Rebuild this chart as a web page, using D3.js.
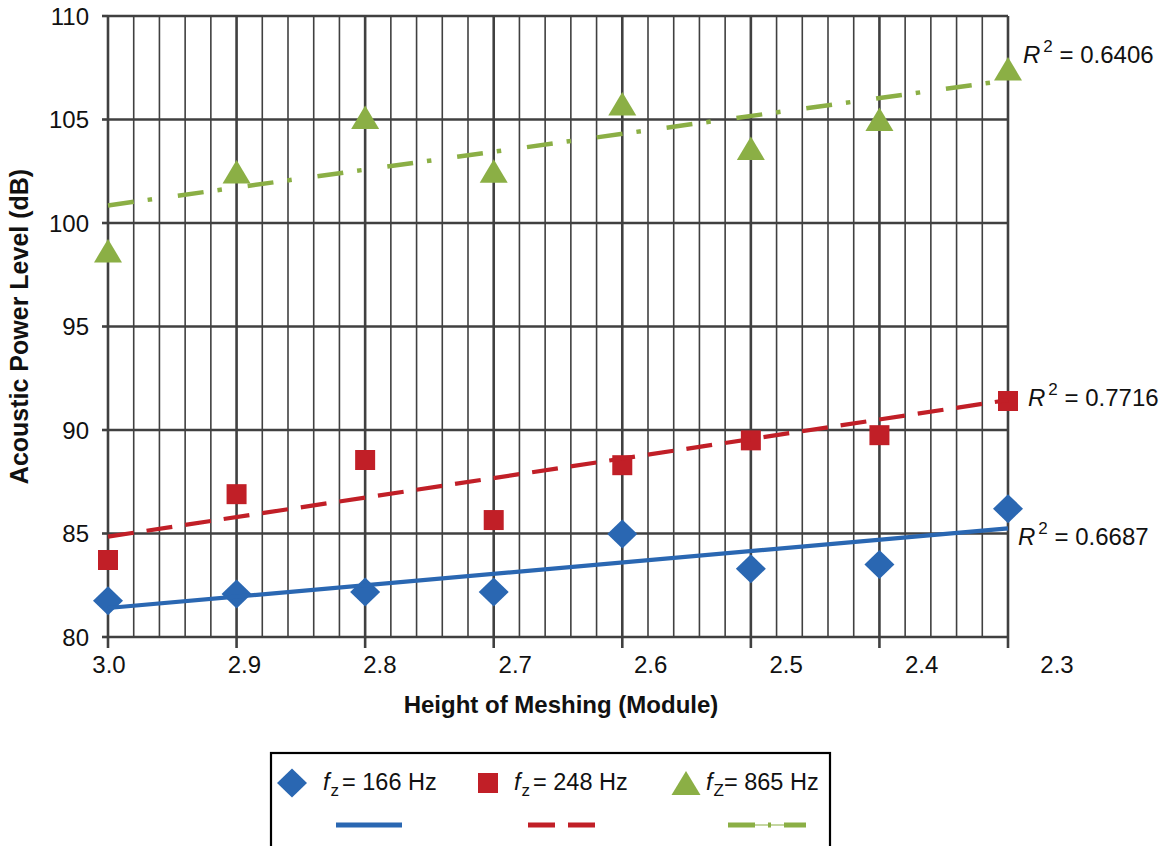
<!DOCTYPE html>
<html>
<head>
<meta charset="utf-8">
<script src="https://cdn.jsdelivr.net/npm/d3@7"></script>
<style>
  html, body { margin: 0; padding: 0; background: #fff; }
  svg { display: block; font-family: "Liberation Sans", Arial, sans-serif; }
</style>
</head>
<body>
<svg id="chart" width="1169" height="846"></svg>
<script>
// ---- data ----
const heights = [3.0, 2.9, 2.8, 2.7, 2.6, 2.5, 2.4, 2.3];
const xTickLabels = ["3.0", "2.9", "2.8", "2.7", "2.6", "2.5", "2.4", "2.3"];
const yTicks = [80, 85, 90, 95, 100, 105, 110];
const power166 = [81.75, 82.08, 82.17, 82.17, 84.98, 83.3, 83.5, 86.2];
const power248 = [83.72, 86.9, 88.55, 85.65, 88.3, 89.5, 89.75, 91.4];
const power865 = [98.65, 102.46, 105.1, 102.5, 105.75, 103.6, 105.0, 107.44];
// trendline end values (at 3.0 and at 2.3)
const trend166 = [81.4, 85.25];
const trend248 = [84.85, 91.45];
const trend865 = [100.85, 106.9];
const r2Labels = ["0.6687", "0.7716", "0.6406"];
const legendLabels = ["= 166 Hz", "= 248 Hz", "= 865 Hz"];
const legendSubs = ["z", "z", "Z"];

// ---- layout ----
const svg = d3.select("#chart");
const L = 108, R = 1008, T = 16, B = 637;
const x = d3.scaleLinear().domain([3.0, 2.3]).range([L, R]);
const xLab = d3.scaleLinear().domain([3.0, 2.3]).range([109, 1057]);
const y = d3.scaleLinear().domain([80, 110]).range([B, T]);

const gridColor = "#404040";
const cBlue = "#2A67B2", cRed = "#C11F27", cGreen = "#8BAF45";
const FS = 24;

// minor vertical gridlines
const minor = d3.range(0, 36).map(i => 3.0 - i * 0.02).filter((v, i) => i % 5 !== 0);
svg.append("g").selectAll("line").data(minor).join("line")
  .attr("x1", d => x(d)).attr("x2", d => x(d))
  .attr("y1", T).attr("y2", B)
  .attr("stroke", gridColor).attr("stroke-width", 1.6);

// major horizontal gridlines
svg.append("g").selectAll("line").data(yTicks).join("line")
  .attr("x1", L).attr("x2", R)
  .attr("y1", d => y(d)).attr("y2", d => y(d))
  .attr("stroke", gridColor).attr("stroke-width", 2.6);

// major vertical gridlines
svg.append("g").selectAll("line").data(heights).join("line")
  .attr("x1", d => x(d)).attr("x2", d => x(d))
  .attr("y1", T).attr("y2", B)
  .attr("stroke", gridColor).attr("stroke-width", 2.6);

// axis ticks
svg.append("g").selectAll("line").data(yTicks).join("line")
  .attr("x1", L - 6).attr("x2", L)
  .attr("y1", d => y(d)).attr("y2", d => y(d))
  .attr("stroke", gridColor).attr("stroke-width", 2.6);
svg.append("g").selectAll("line").data(heights).join("line")
  .attr("x1", d => x(d)).attr("x2", d => x(d))
  .attr("y1", B).attr("y2", B + 11)
  .attr("stroke", gridColor).attr("stroke-width", 2.6);

// tick labels
svg.append("g").selectAll("text").data(yTicks).join("text")
  .attr("x", 89).attr("y", d => y(d) + 8.5)
  .attr("text-anchor", "end").attr("font-size", FS).attr("fill", "#111")
  .text(d => d);
svg.append("g").selectAll("text").data(heights).join("text")
  .attr("x", d => xLab(d)).attr("y", 673)
  .attr("text-anchor", "middle").attr("font-size", FS).attr("fill", "#111")
  .text((d, i) => xTickLabels[i]);

// axis titles
svg.append("text").attr("x", 561).attr("y", 713)
  .attr("text-anchor", "middle").attr("font-size", 24).attr("font-weight", "bold")
  .attr("fill", "#111").text("Height of Meshing (Module)");
svg.append("text")
  .attr("transform", `translate(28,${(T + B) / 2}) rotate(-90)`)
  .attr("text-anchor", "middle").attr("font-size", 25).attr("font-weight", "bold")
  .attr("fill", "#111").text("Acoustic Power Level (dB)");

// trendlines
const trendLine = d3.line().x(d => x(d[0])).y(d => y(d[1]));
const ends = [3.0, 2.3];
function drawTrend(vals, color, width, dash) {
  svg.append("path")
    .attr("d", trendLine(ends.map((h, i) => [h, vals[i]])))
    .attr("fill", "none").attr("stroke", color).attr("stroke-width", width)
    .attr("stroke-dasharray", dash);
}

// markers
const diamond = "M0,-14.5L15,0L0,14.5L-15,0Z";
const square = "M-10,-10L10,-10L10,10L-10,10Z";
const triangle = "M0,-12L14,11.5L-14,11.5Z";
function drawMarkers(vals, path, color) {
  svg.append("g").selectAll("path").data(vals).join("path")
    .attr("transform", (d, i) => `translate(${x(heights[i])},${y(d)})`)
    .attr("d", path).attr("fill", color);
}

drawMarkers(power166, diamond, cBlue);
drawMarkers(power248, square, cRed);
drawMarkers(power865, triangle, cGreen);
drawTrend(trend166, cBlue, 4.2, null);
drawTrend(trend248, cRed, 4.2, "26,13");
drawTrend(trend865, cGreen, 4.5, "26,14,4.5,26");

// R^2 labels
function r2(xp, yp, val) {
  const t = svg.append("text").attr("x", xp).attr("y", yp)
    .attr("font-size", 24).attr("fill", "#111");
  t.append("tspan").attr("font-style", "italic").text("R");
  t.append("tspan").attr("font-size", 17).attr("dx", 3).attr("dy", -11).text("2");
  t.append("tspan").attr("dy", 11).text(" = " + val);
}
r2(1023, 63, r2Labels[2]);
r2(1028, 406, r2Labels[1]);
r2(1018, 545, r2Labels[0]);

// legend
const lg = svg.append("g");
lg.append("rect").attr("x", 271).attr("y", 753).attr("width", 559).attr("height", 120)
  .attr("fill", "#fff").attr("stroke", "#000").attr("stroke-width", 2.2);
const legX = [292, 488, 686];
const legTextX = [323, 514, 706];
const legPaths = [diamond, square, "M0,-12L14.5,12L-14.5,12Z"];
const legColors = [cBlue, cRed, cGreen];
legX.forEach((lx, i) => {
  lg.append("path").attr("transform", `translate(${lx},783)`)
    .attr("d", legPaths[i]).attr("fill", legColors[i]);
  const t = lg.append("text").attr("x", legTextX[i]).attr("y", 790)
    .attr("font-size", 23.5).attr("fill", "#111");
  t.append("tspan").attr("font-style", "italic").text("f");
  t.append("tspan").attr("font-size", 17).attr("dx", 1).attr("dy", 6).text(legendSubs[i]);
  t.append("tspan").attr("dx", i === 2 ? 0 : 3).attr("dy", -6).text(legendLabels[i]);
});
const legLineY = 825;
lg.append("line").attr("x1", 336).attr("x2", 402).attr("y1", legLineY).attr("y2", legLineY)
  .attr("stroke", cBlue).attr("stroke-width", 5);
lg.append("line").attr("x1", 528).attr("x2", 595).attr("y1", legLineY).attr("y2", legLineY)
  .attr("stroke", cRed).attr("stroke-width", 5).attr("stroke-dasharray", "27,13");
lg.append("line").attr("x1", 728).attr("x2", 806).attr("y1", legLineY).attr("y2", legLineY)
  .attr("stroke", cGreen).attr("stroke-width", 1);
lg.append("line").attr("x1", 728).attr("x2", 806).attr("y1", legLineY).attr("y2", legLineY)
  .attr("stroke", cGreen).attr("stroke-width", 5).attr("stroke-dasharray", "27,13,3,13,27");
</script>
</body>
</html>
